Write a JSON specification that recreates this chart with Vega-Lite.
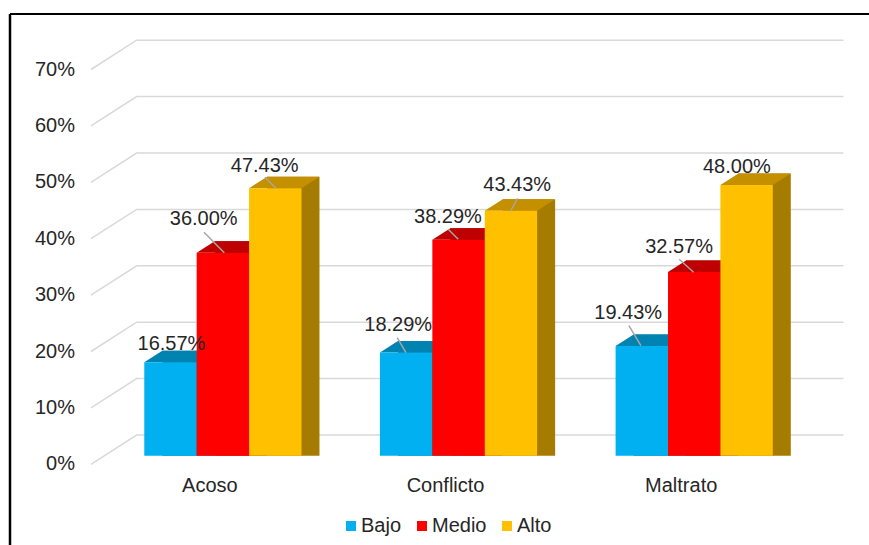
{
"$schema":"https://vega.github.io/schema/vega-lite/v6.json",
"autosize":"none","width":859,"height":531,
"padding":{"left":10,"top":14,"right":0,"bottom":0},
"background":"white",
"config":{"view":{"stroke":null},"font":"Liberation Sans",
"text":{"font":"Liberation Sans","fontSize":20,"fill":"#262626","align":"center","baseline":"middle"},
"legend":{"labelFont":"Liberation Sans","labelFontSize":20,"labelColor":"#262626"}},
"datasets":{
"bars":[
{"cat":"Acoso","group":"Bajo","value":0.1657},{"cat":"Acoso","group":"Medio","value":0.36},{"cat":"Acoso","group":"Alto","value":0.4743},
{"cat":"Conflicto","group":"Bajo","value":0.1829},{"cat":"Conflicto","group":"Medio","value":0.3829},{"cat":"Conflicto","group":"Alto","value":0.4343},
{"cat":"Maltrato","group":"Bajo","value":0.1943},{"cat":"Maltrato","group":"Medio","value":0.3257},{"cat":"Maltrato","group":"Alto","value":0.48}],
"gridlines":[{"v":0},{"v":0.1},{"v":0.2},{"v":0.3},{"v":0.4},{"v":0.5},{"v":0.6},{"v":0.7}]},
"data":{"name":"bars"},
"resolve":{"scale":{"color":"independent"}},
"layer":[
{"data":{"name":"gridlines"},"mark":{"type":"point","filled":false,"shape":"M-131.9,29.3L-86.2,0H620.6","size":4,"stroke":"#d9d9d9","strokeWidth":1.5,"opacity":1,"yOffset":-20.7},
"encoding":{"x":{"datum":"Acoso","type":"nominal","axis":null},"y":{"field":"v","type":"quantitative","axis":null}}},
{"data":{"name":"gridlines"},"mark":{"type":"text","align":"right","dx":-147.9,"dy":8.6},
"encoding":{"x":{"datum":"Acoso","type":"nominal","axis":null},"y":{"field":"v","type":"quantitative","axis":null},"text":{"field":"v","format":".0%"}}},
{"data":{"values":[{}]},"mark":{"type":"rule","stroke":"#000000","strokeWidth":2},"encoding":{"y":{"value":0}}},
{"data":{"values":[{}]},"mark":{"type":"rule","stroke":"#000000","strokeWidth":2.5},"encoding":{"x":{"value":0}}},
{"encoding":{
"x":{"field":"cat","type":"nominal","title":null,"sort":null,"scale":{"domain":["Acoso","Conflicto","Maltrato"],"range":[95,802],"paddingInner":0.3333,"paddingOuter":0.1667},"axis":null},
"y":{"field":"value","type":"quantitative","stack":null,"title":null,"scale":{"domain":[0,0.7],"range":[441.7,46.9],"nice":false},"axis":null},
"xOffset":{"field":"group","type":"nominal","scale":{"domain":["Bajo","Medio","Alto"],"range":[0,157.2]}}},
"resolve":{"scale":{"color":"independent","xOffset":"independent"}},
"layer":[
{"mark":{"type":"bar","width":{"band":1},"yOffset":-11.5},
"encoding":{"xOffset":{"field":"group","type":"nominal","scale":{"domain":["Bajo","Medio","Alto"],"range":[18,175.2]}},"color":{"field":"group","type":"nominal","legend":null,"scale":{"domain":["Bajo","Medio","Alto"],"range":["#006f99","#990000","#A67C00"]}}}},
{"mark":{"type":"point","filled":true,"opacity":1,"strokeWidth":0,"size":4,"shape":"M26.2,0L26.2,-11.5L44.2,-11.5Z"},
"encoding":{"y":{"datum":0,"type":"quantitative","axis":null},"color":{"field":"group","type":"nominal","legend":null,"scale":{"domain":["Bajo","Medio","Alto"],"range":["#006f99","#990000","#A67C00"]}}}},
{"mark":{"type":"point","filled":true,"opacity":1,"strokeWidth":0,"size":4,"shape":"M-26.2,0L26.2,0L44.2,-11.5L-8.2,-11.5Z"},
"encoding":{"color":{"field":"group","type":"nominal","legend":null,"scale":{"domain":["Bajo","Medio","Alto"],"range":["#0083B0","#BE0000","#C49000"]}}}},
{"mark":{"type":"bar","width":{"band":1}},
"encoding":{
"color":{"field":"group","type":"nominal","title":null,"scale":{"domain":["Bajo","Medio","Alto"],"range":["#00B0F0","#FF0000","#FFC000"]},
"legend":{"orient":"none","legendX":331,"legendY":502,"direction":"horizontal","symbolType":"square","symbolSize":100,"labelOffset":0,"columnPadding":10,"title":null,"symbolStrokeWidth":0}}}},
{"transform":[{"filter":"datum.group=='Medio'"}],"mark":{"type":"text","dx":-13,"dy":30},"encoding":{"y":{"datum":0,"type":"quantitative","axis":null},"text":{"field":"cat"}}},
{"transform":[{"filter":"datum.cat=='Acoso'&&datum.group=='Bajo'"}],"mark":{"type":"text","dx":1,"dy":-18},"encoding":{"text":{"field":"value","format":".2%"}}},
{"transform":[{"filter":"datum.cat=='Acoso'&&datum.group=='Medio'"}],"layer":[
{"mark":{"type":"text","dx":-19.2,"dy":-33.4},"encoding":{"text":{"field":"value","format":".2%"}}},
{"mark":{"type":"point","filled":false,"opacity":1,"size":4,"stroke":"#a6a6a6","strokeWidth":1.5,"shape":"M-18.9,-20.4L1.4,0"}}]},
{"transform":[{"filter":"datum.cat=='Acoso'&&datum.group=='Alto'"}],"layer":[
{"mark":{"type":"text","dx":-10.6,"dy":-22.5},"encoding":{"text":{"field":"value","format":".2%"}}},
{"mark":{"type":"point","filled":false,"opacity":1,"size":4,"stroke":"#a6a6a6","strokeWidth":1.5,"shape":"M-10.3,-10.9L0.7,0"}}]},
{"transform":[{"filter":"datum.cat=='Conflicto'&&datum.group=='Bajo'"}],"layer":[
{"mark":{"type":"text","dx":-7.9,"dy":-27.5},"encoding":{"text":{"field":"value","format":".2%"}}},
{"mark":{"type":"point","filled":false,"opacity":1,"size":4,"stroke":"#a6a6a6","strokeWidth":1.5,"shape":"M-8.9,-14.8L-0.2,0"}}]},
{"transform":[{"filter":"datum.cat=='Conflicto'&&datum.group=='Medio'"}],"layer":[
{"mark":{"type":"text","dx":-10.6,"dy":-23},"encoding":{"text":{"field":"value","format":".2%"}}},
{"mark":{"type":"point","filled":false,"opacity":1,"size":4,"stroke":"#a6a6a6","strokeWidth":1.5,"shape":"M-10.3,-10.4L-0.3,-0.4"}}]},
{"transform":[{"filter":"datum.cat=='Conflicto'&&datum.group=='Alto'"}],"layer":[
{"mark":{"type":"text","dx":6.3,"dy":-25.7},"encoding":{"text":{"field":"value","format":".2%"}}},
{"mark":{"type":"point","filled":false,"opacity":1,"size":4,"stroke":"#a6a6a6","strokeWidth":1.5,"shape":"M6.7,-12.4L-0.3,0"}}]},
{"transform":[{"filter":"datum.cat=='Maltrato'&&datum.group=='Bajo'"}],"layer":[
{"mark":{"type":"text","dx":-13.6,"dy":-32.8},"encoding":{"text":{"field":"value","format":".2%"}}},
{"mark":{"type":"point","filled":false,"opacity":1,"size":4,"stroke":"#a6a6a6","strokeWidth":1.5,"shape":"M-12.9,-20.4L-0.9,-0.4"}}]},
{"transform":[{"filter":"datum.cat=='Maltrato'&&datum.group=='Medio'"}],"layer":[
{"mark":{"type":"text","dx":-15.1,"dy":-25.3},"encoding":{"text":{"field":"value","format":".2%"}}},
{"mark":{"type":"point","filled":false,"opacity":1,"size":4,"stroke":"#a6a6a6","strokeWidth":1.5,"shape":"M-15,-12.7L-0.6,0.3"}}]},
{"transform":[{"filter":"datum.cat=='Maltrato'&&datum.group=='Alto'"}],"mark":{"type":"text","dx":-9.7,"dy":-17.7},"encoding":{"text":{"field":"value","format":".2%"}}}
]}
]}
